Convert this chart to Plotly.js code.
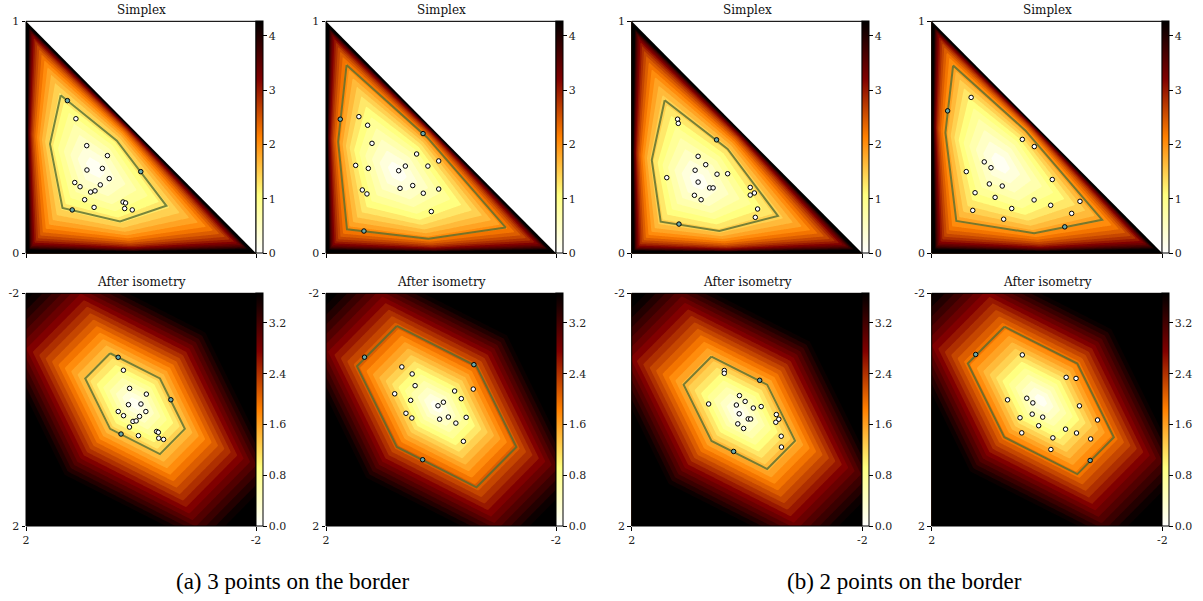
<!DOCTYPE html>
<html><head><meta charset="utf-8">
<script src="https://cdn.plot.ly/plotly-3.0.1.min.js"></script>
<style>html,body{margin:0;padding:0;background:#fff}#chart{width:1203px;height:601px}</style>
</head><body><div id="chart"></div>
<script>
// ---------- data ----------
// sample points, simplex coordinates (p1 = x, p2 = y, p3 = 1 - x - y)
const a1x = [0.180,0.217,0.264,0.354,0.499,0.265,0.332,0.362,0.212,0.235,0.323,0.281,0.300,0.255,0.296,0.201,0.422,0.433,0.429,0.462];
const a1y = [0.658,0.580,0.464,0.421,0.352,0.359,0.366,0.322,0.305,0.287,0.295,0.264,0.269,0.231,0.198,0.187,0.221,0.217,0.193,0.187];
const a2x = [0.062,0.143,0.181,0.200,0.422,0.394,0.129,0.184,0.316,0.345,0.443,0.490,0.158,0.178,0.322,0.377,0.423,0.490,0.458,0.165];
const a2y = [0.578,0.589,0.552,0.474,0.516,0.428,0.379,0.366,0.356,0.376,0.376,0.398,0.273,0.256,0.280,0.292,0.259,0.277,0.180,0.096];
const b1x = [0.199,0.202,0.368,0.288,0.321,0.275,0.370,0.416,0.152,0.288,0.338,0.353,0.272,0.301,0.514,0.532,0.514,0.546,0.536,0.205];
const b1y = [0.578,0.560,0.489,0.418,0.382,0.358,0.341,0.343,0.326,0.307,0.282,0.282,0.250,0.231,0.284,0.260,0.251,0.191,0.155,0.126];
const b2x = [0.069,0.171,0.393,0.445,0.228,0.257,0.150,0.250,0.306,0.523,0.188,0.275,0.444,0.516,0.643,0.178,0.347,0.312,0.607,0.577];
const b2y = [0.614,0.672,0.491,0.460,0.394,0.369,0.352,0.299,0.290,0.318,0.261,0.241,0.230,0.207,0.224,0.185,0.193,0.147,0.172,0.114];
// indices of points lying on the border of the smallest enclosing ball
const a1Border = [0,4,15];
const a2Border = [0,4,19];
const b1Border = [2,19];
const b2Border = [0,19];
// ball centres (read in the isometry plane) and radii
const centerIsoX = [0.104, 0.075, 0.133, 0.107];
const centerIsoY = [-0.103, -0.052, 0.054, -0.159];
const ballRadius = [1.30, 2.08, 1.45, 1.90];
// colour-scale ranges and ticks
const simplexMax = 4.27;
const isoMax = 3.67;
const simplexTickVals = [0,1,2,3,4];
const simplexTickText = ['0','1','2','3','4'];
const isoTickVals = [0,0.8,1.6,2.4,3.2];
const isoTickText = ['0.0','0.8','1.6','2.4','3.2'];
const rowTitles = ['Simplex','After isometry'];
const captions = ['(a) 3 points on the border','(b) 2 points on the border'];

// ---------- helpers ----------
const panelX = [a1x,a2x,b1x,b2x];
const panelY = [a1y,a2y,b1y,b2y];
const panelBorder = [a1Border,a2Border,b1Border,b2Border];
const W = 1203, H = 601;
const colPx = [[26,256],[326,556],[631.7,862.3],[931.7,1162.3]];
const rowPx = [[21.3,253.3],[293.3,526]];
const captionPx = [292, 904];
const afmhotR = [[0,'#ffffff'],[0.25,'#ffff80'],[0.5,'#ff8000'],[0.75,'#800000'],[1,'#000000']];
const serif = "'DejaVu Serif', serif";
const times = "'Liberation Serif', 'Times New Roman', Times, serif";
const NG = 221;

function grid(a,b,n){const r=[];for(let i=0;i<n;i++)r.push(a+(b-a)*i/(n-1));return r;}
function toIso(x,y){const lx=Math.log(x),ly=Math.log(y),lz=Math.log(1-x-y);const m=(lx+ly+lz)/3;return [m-lx,m-ly];}
function fromIso(a,b){const e1=Math.exp(-a),e2=Math.exp(-b),e3=Math.exp(a+b);const s=e1+e2+e3;return [e1/s,e2/s];}
function hexNorm(dx,dy){const dz=-dx-dy;return Math.max(dx,dy,dz)-Math.min(dx,dy,dz);}
const hexDirs = [[1,-2],[2,-1],[1,1],[-1,2],[-2,1],[-1,-1],[1,-2]];

const traces=[], shapes=[], annotations=[];
const layout = {
  width:W, height:H, margin:{l:0,r:0,t:0,b:0},
  paper_bgcolor:'#fff', plot_bgcolor:'#fff', showlegend:false,
  font:{family:serif, size:11, color:'#222'}
};

const sg = grid(0,1,NG), ig = grid(-2,2,NG);

for (let row=0; row<2; row++){
  for (let k=0; k<4; k++){
    const n = row*4 + k + 1;
    const xa = 'x'+(n===1?'':n), ya = 'y'+(n===1?'':n);
    const xk = 'xaxis'+(n===1?'':n), yk = 'yaxis'+(n===1?'':n);
    const dx = [colPx[k][0]/W, colPx[k][1]/W];
    const dy = [1-rowPx[row][1]/H, 1-rowPx[row][0]/H];
    const cx = centerIsoX[k], cy = centerIsoY[k], R = ballRadius[k];
    const zmax = row===0 ? simplexMax : isoMax;
    const cap = zmax + 0.5;
    const g = row===0 ? sg : ig;
    const z = [];
    for (let j=0;j<NG;j++){
      const r=[]; const y=g[j];
      for (let i=0;i<NG;i++){
        const x=g[i]; let v;
        if (row===0){
          if (x<=0||y<=0||x+y>=1) v=cap;
          else { const p=toIso(x,y); v=Math.min(hexNorm(p[0]-cx,p[1]-cy),cap); }
        } else v=Math.min(hexNorm(x-cx,y-cy),cap);
        r.push(v);
      }
      z.push(r);
    }
    traces.push({type:'contour', x:g, y:g, z:z, xaxis:xa, yaxis:ya,
      colorscale:afmhotR, zmin:0, zmax:zmax, autocontour:false,
      contours:{start:0, end:zmax, size:zmax/22, coloring:'fill', showlines:false},
      line:{width:0, smoothing:0}, showscale:false, hoverinfo:'skip'});
    // colour bar (smooth), carried by an off-range dummy heatmap
    traces.push({type:'heatmap', x:[100], y:[100], z:[[0]], xaxis:xa, yaxis:ya,
      zmin:0, zmax:zmax, colorscale:afmhotR, hoverinfo:'skip', showscale:true,
      colorbar:{x:dx[1], xanchor:'left', xpad:0, y:(dy[0]+dy[1])/2, yanchor:'middle',
        len:dy[1]-dy[0], lenmode:'fraction', ypad:0, thickness:7, thicknessmode:'pixels',
        outlinewidth:1, outlinecolor:'#000', borderwidth:0,
        ticks:'outside', ticklen:3.5, tickwidth:1, tickcolor:'#000',
        tickvals: row===0?simplexTickVals:isoTickVals, ticktext: row===0?simplexTickText:isoTickText,
        tickfont:{family:serif,size:11,color:'#222'}}});
    // enclosing ball boundary
    const hx=[], hy=[];
    hexDirs.forEach(d=>{
      const a=cx+d[0]*R/3, b=cy+d[1]*R/3;
      if(row===0){const p=fromIso(a,b);hx.push(p[0]);hy.push(p[1]);}
      else {hx.push(a);hy.push(b);}
    });
    traces.push({type:'scatter', mode:'lines', x:hx, y:hy, xaxis:xa, yaxis:ya,
      line:{color:'rgba(85,107,47,0.8)', width:2}, hoverinfo:'skip'});
    // points
    const ptx=[], pty=[], cols=[];
    panelX[k].forEach((x,i)=>{
      const y=panelY[k][i];
      if(row===0){ptx.push(x);pty.push(y);}
      else {const p=toIso(x,y);ptx.push(p[0]);pty.push(p[1]);}
      cols.push(panelBorder[k].includes(i)?'#6aa8a8':'#ffffff');
    });
    traces.push({type:'scatter', mode:'markers', x:ptx, y:pty, xaxis:xa, yaxis:ya,
      marker:{size:4.5, color:cols, line:{color:'#000', width:1}}, hoverinfo:'skip'});

    const common = {showgrid:false, zeroline:false, showline:false, ticks:'outside', ticklen:3.5,
      tickwidth:1, tickcolor:'#000', fixedrange:true, tickfont:{family:serif,size:11,color:'#222'}};
    if(row===0){
      layout[xk] = Object.assign({}, common, {domain:dx, anchor:ya, range:[0,1], tickvals:[0,1], showticklabels:false});
      layout[yk] = Object.assign({}, common, {domain:dy, anchor:xa, range:[0,1], tickvals:[0,1], ticktext:['0','1']});
      shapes.push({type:'path', xref:xa, yref:ya, path:'M0,1 L1,1 L1,0 Z', fillcolor:'#ffffff', line:{width:0}, layer:'above'});
    } else {
      layout[xk] = Object.assign({}, common, {domain:dx, anchor:ya, range:[2,-2], tickvals:[2,-2], ticktext:['2','-2']});
      layout[yk] = Object.assign({}, common, {domain:dy, anchor:xa, range:[2,-2], tickvals:[-2,2], ticktext:['-2','2']});
    }
    shapes.push({type:'rect', xref:xa+' domain', yref:ya+' domain', x0:0, x1:1, y0:0, y1:1,
      line:{color:'#000', width:1}, fillcolor:'rgba(0,0,0,0)', layer:'above'});
    annotations.push({text:rowTitles[row], xref:'paper', yref:'paper', x:(dx[0]+dx[1])/2,
      y: 1-(row===0?10:282)/H, xanchor:'center', yanchor:'middle', showarrow:false,
      font:{family:serif, size:12, color:'#111'}});
  }
}
captions.forEach((c,i)=>annotations.push({text:c, xref:'paper', yref:'paper', x:captionPx[i]/W, y:1-581/H,
  xanchor:'center', yanchor:'middle', showarrow:false, font:{family:times, size:23, color:'#000'}}));
layout.shapes = shapes;
layout.annotations = annotations;
Plotly.newPlot('chart', traces, layout, {displayModeBar:false, staticPlot:true});
</script>
</body></html>
